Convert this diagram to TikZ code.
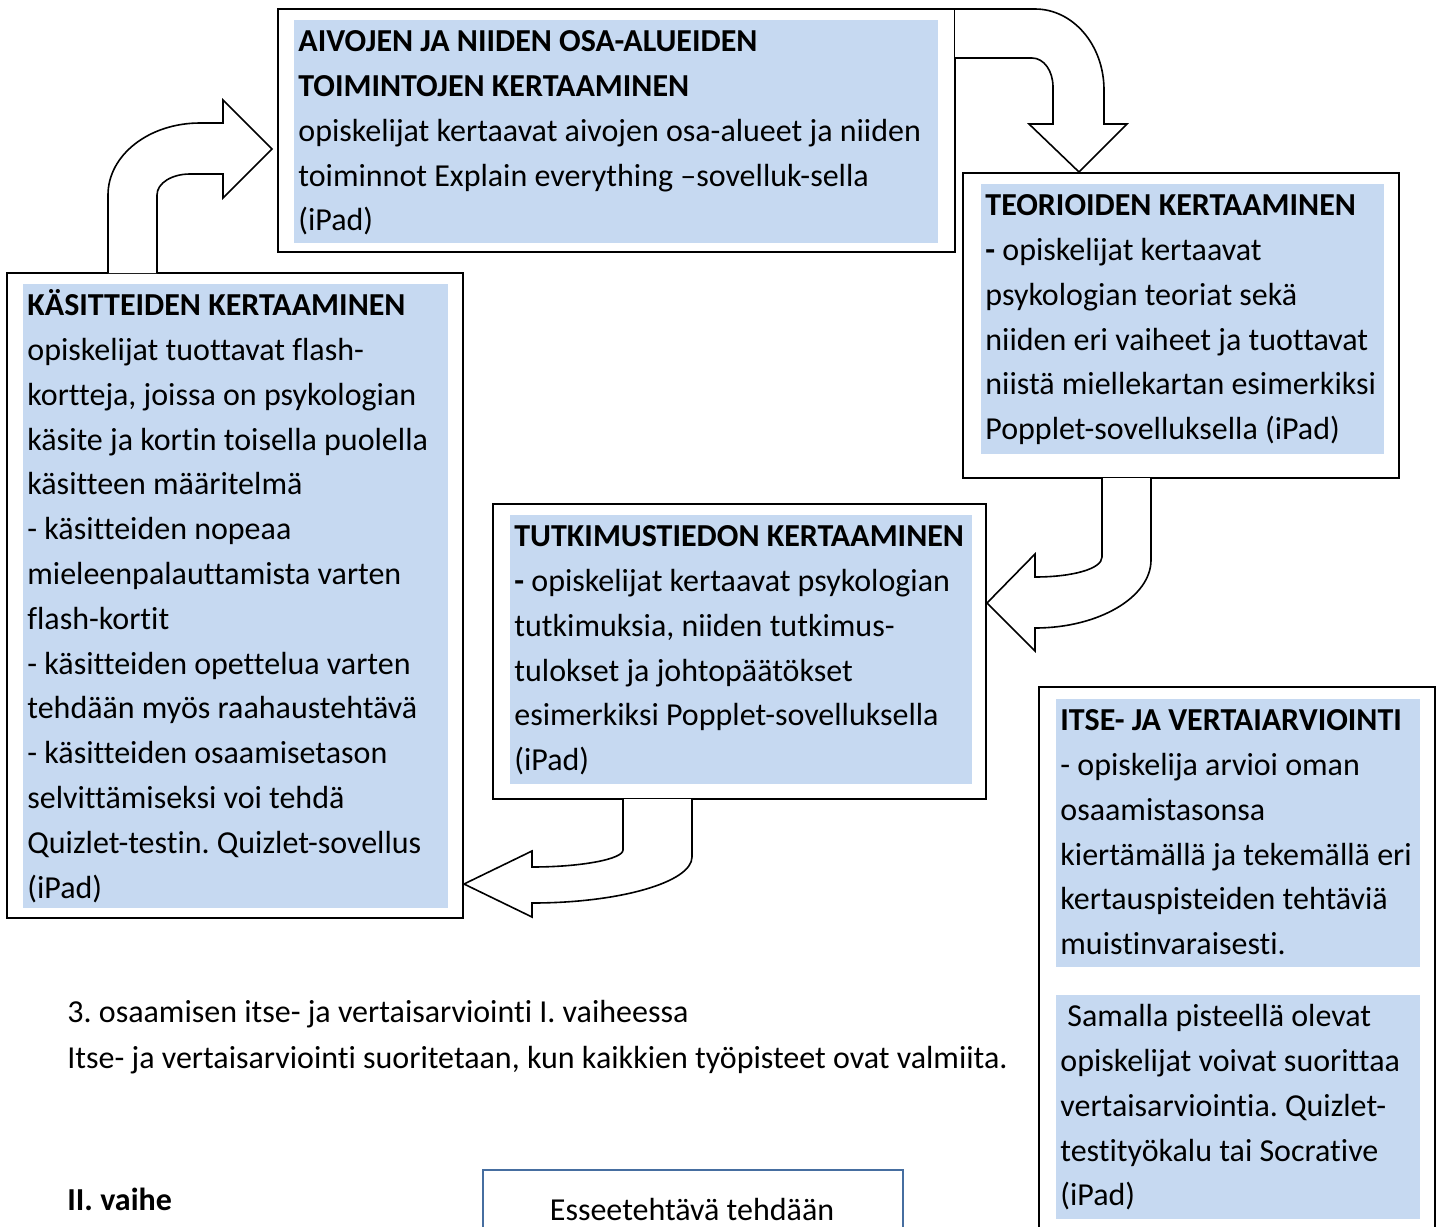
\documentclass[tikz,border=0pt]{standalone}
\usepackage{fontspec}
\setmainfont{Carlito}[Ligatures={NoCommon}]
\frenchspacing
\definecolor{shadeblue}{RGB}{198,217,241}
\definecolor{essblue}{RGB}{70,110,160}

\begin{document}
\begin{tikzpicture}[x=0.5pt,y=-0.5pt,line join=miter]
\tikzstyle{frame}=[draw=black,line width=1pt]
\tikzstyle{block arrow}=[draw=black,fill=white,line width=0.8pt]

\tikzset{
	shade text/.style={anchor=north west,inner sep=0pt,align=left,font=\fontsize{16}{22.4}\selectfont},
	plain text/.style={anchor=base west,inner sep=0pt,font=\fontsize{16}{22.4}\selectfont}
}

\useasboundingbox (0,0) rectangle (1440,1226);
\clip (0,0) rectangle (1440,1226);

    % taustat
    \fill[shadeblue] (294,20) rectangle (938,243);
    \fill[shadeblue] (23,284) rectangle (448,908);
    \fill[shadeblue] (981,184) rectangle (1384,454);
    \fill[shadeblue] (510,515) rectangle (972,784);
    \fill[shadeblue] (1056,699) rectangle (1420,967);
    \fill[shadeblue] (1056,995) rectangle (1420,1219);

    % kehykset
    \draw[frame] (278,9) rectangle (955,252);
    \draw[frame] (7,273) rectangle (463,918);
    \draw[frame] (963,173) rectangle (1399,478);
    \draw[frame] (493,504) rectangle (986,799);
    \draw[frame] (1039,687) rectangle (1435,1240);
    \draw[draw=essblue,line width=1pt] (483,1170) rectangle (903,1240);

    \node[shade text] (aivo) at (298,20) {\strut\textbf{AIVOJEN JA NIIDEN OSA-ALUEIDEN}\\
      \textbf{TOIMINTOJEN KERTAAMINEN}\\
      opiskelijat kertaavat aivojen osa-alueet ja niiden\\
      toiminnot Explain everything –sovelluk-sella\\
      (iPad)\strut};
    \node[shade text] (kasit) at (27,284) {\strut\textbf{KÄSITTEIDEN KERTAAMINEN}\\
      opiskelijat tuottavat flash-\\
      kortteja, joissa on psykologian\\
      käsite ja kortin toisella puolella\\
      käsitteen määritelmä\\
      - käsitteiden nopeaa\\
      mieleenpalauttamista varten\\
      flash-kortit\\
      - käsitteiden opettelua varten\\
      tehdään myös raahaustehtävä\\
      - käsitteiden osaamisetason\\
      selvittämiseksi voi tehdä\\
      Quizlet-testin. Quizlet-sovellus\\
      (iPad)\strut};
    \node[shade text] (teor) at (985,184) {\strut\textbf{TEORIOIDEN KERTAAMINEN}\\
      \textbf{-} opiskelijat kertaavat\\
      psykologian teoriat sekä\\
      niiden eri vaiheet ja tuottavat\\
      niistä miellekartan esimerkiksi\\
      Popplet-sovelluksella (iPad)\strut};
    \node[shade text] (tutk) at (514,515) {\strut\textbf{TUTKIMUSTIEDON KERTAAMINEN}\\
      \textbf{-} opiskelijat kertaavat psykologian\\
      tutkimuksia, niiden tutkimus-\\
      tulokset ja johtopäätökset\\
      esimerkiksi Popplet-sovelluksella\\
      (iPad)\strut};
    \node[shade text] (itse) at (1060,699) {\strut\textbf{ITSE- JA VERTAIARVIOINTI}\\
      - opiskelija arvioi oman\\
      osaamistasonsa\\
      kiertämällä ja tekemällä eri\\
      kertauspisteiden tehtäviä\\
      muistinvaraisesti.\strut};
    \node[shade text] (vertais) at (1060,995) {\strut\hspace*{0.22em}Samalla pisteellä olevat\\
      opiskelijat voivat suorittaa\\
      vertaisarviointia. Quizlet-\\
      testityökalu tai Socrative\\
      (iPad)\strut};

    \node[plain text] (arvio) at (67,1022) {3. osaamisen itse- ja vertaisarviointi I. vaiheessa};
    \node[plain text] (arviob) at (67,1068) {Itse- ja vertaisarviointi suoritetaan, kun kaikkien työpisteet ovat valmiita.};
    \node[plain text] (vaihe) at (67,1210) {\textbf{II. vaihe}};
    \node[plain text,anchor=base] (essee) at (692,1220) {Esseetehtävä tehdään};

    % nuolet
    \draw[block arrow] (108,273) -- (108,195) .. controls (108,155) and (149,123) .. (200,123)
      -- (223,123) -- (223,100) -- (272,149) -- (223,198) -- (223,174) -- (190,174)
      .. controls (172,174) and (157,183) .. (157,195) -- (157,273);
    \draw[block arrow] (955,9) -- (1035,9) .. controls (1073,9) and (1104,45) .. (1104,90)
      -- (1104,124) -- (1127,124) -- (1079,172) -- (1029,124) -- (1053,124) -- (1053,87)
      .. controls (1053,71) and (1044,58) .. (1032,58) -- (955,58);
    \draw[block arrow] (1102,478) -- (1102,557) .. controls (1102,569) and (1072,577) .. (1035,577)
      -- (1035,554) -- (987,603) -- (1035,651) -- (1035,628)
      .. controls (1099,628) and (1151,597) .. (1151,560) -- (1151,478);
    \draw[block arrow] (623,799) -- (623,850) .. controls (623,859) and (582,867) .. (532,867)
      -- (532,851) -- (464,884) -- (532,917) -- (532,903)
      .. controls (620,903) and (692,882) .. (692,857) -- (692,799);
\end{tikzpicture}
\end{document}
